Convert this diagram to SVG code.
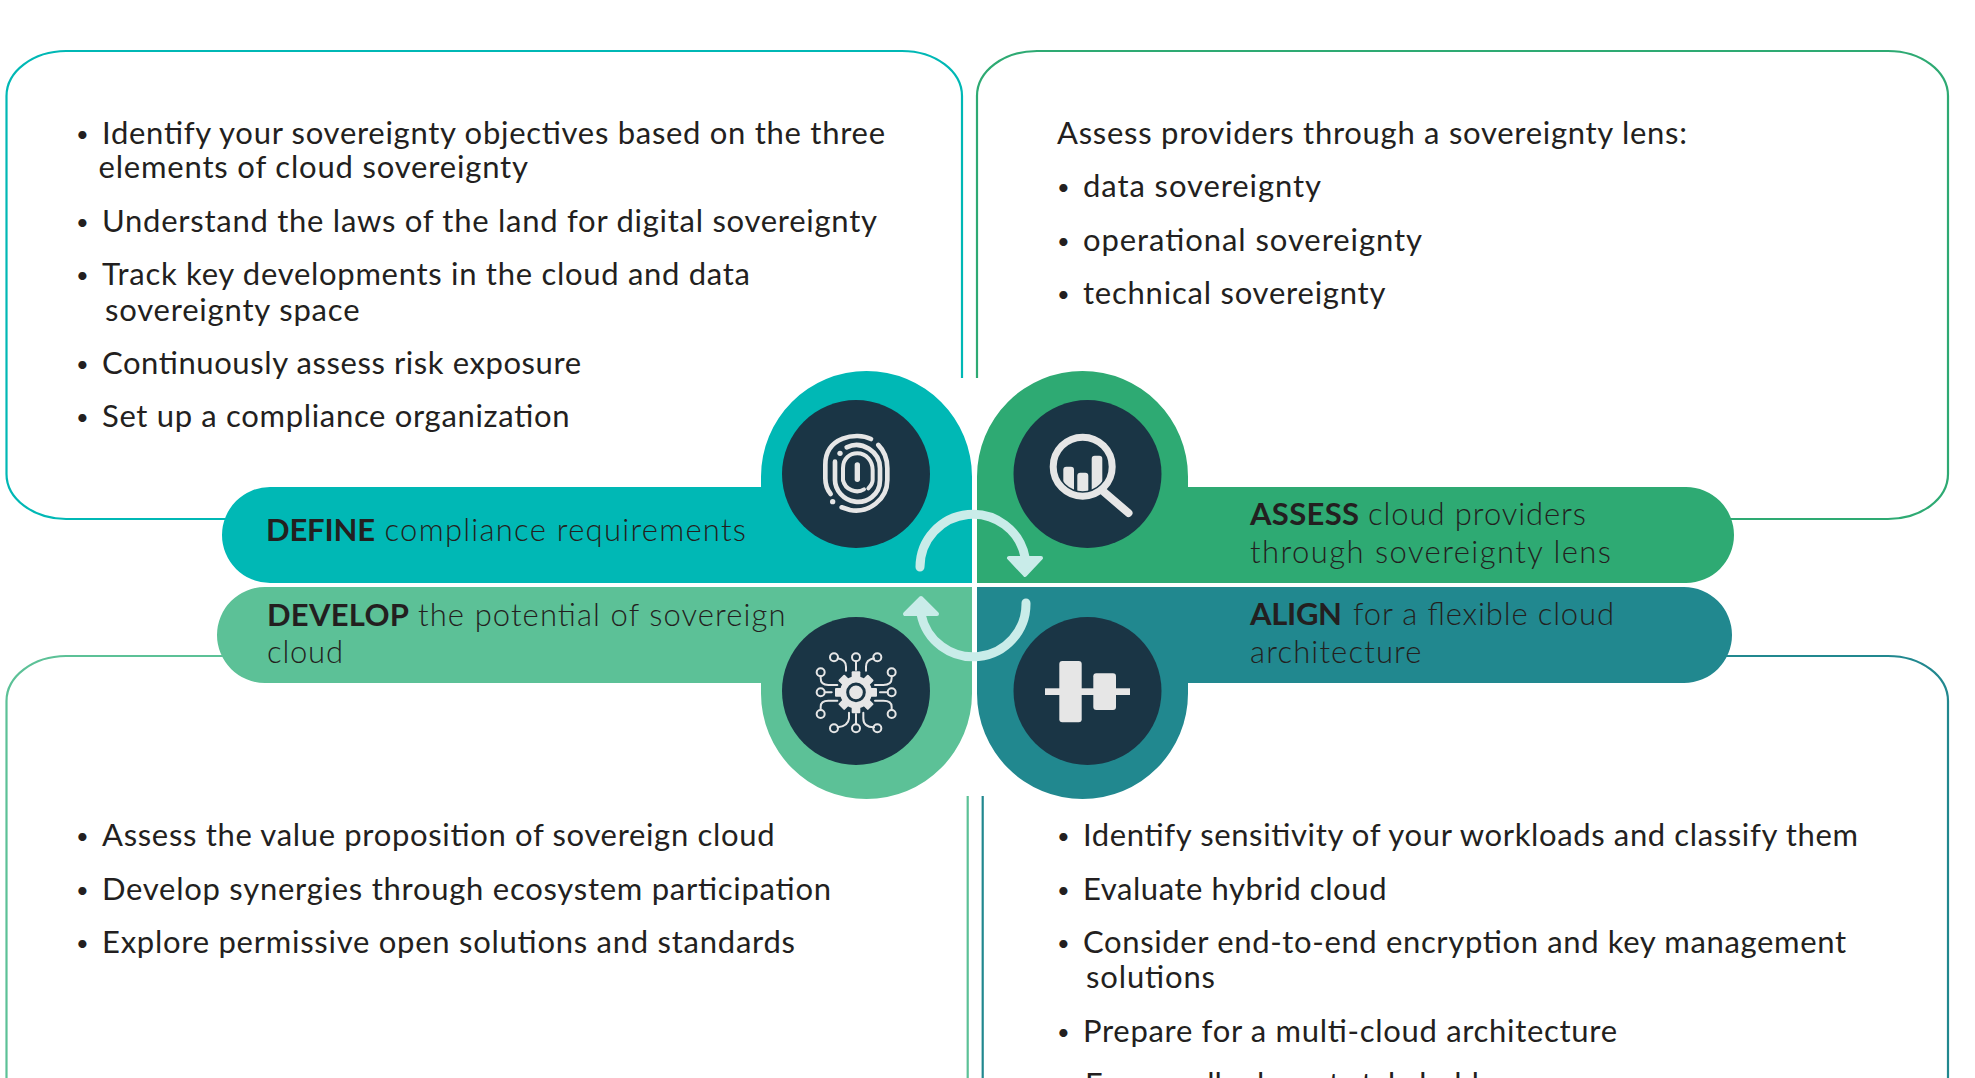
<svg xmlns="http://www.w3.org/2000/svg" width="1975" height="1078" viewBox="0 0 1975 1078">
<style>
.p{fill:none;stroke-width:2.2}
.t{font-family:"Lato","Liberation Sans",sans-serif;font-size:31px;fill:#231f20}
.u{font-family:"Lato","Liberation Sans",sans-serif;font-size:22px;fill:#231f20}
.l{font-family:"Lato","Liberation Sans",sans-serif;font-size:31px;fill:#231f20;font-weight:300}
.b{font-weight:700}
.d{fill:#1a3545}
.i{fill:#e6e6e6}
.s{fill:none;stroke:#e6e6e6;stroke-linecap:round}
.a{fill:none;stroke:#c9ece9;stroke-width:9;stroke-linecap:round}
.h{fill:#c9ece9;stroke:#c9ece9;stroke-width:4;stroke-linejoin:round}
</style>
<defs>
<clipPath id="lens"><circle cx="1082.7" cy="466.7" r="24.500"/></clipPath>
</defs>
<rect width="1975" height="1078" fill="#fff"/>
<g id="connectors">
<path class="p" stroke="#00b8b5" d="M962 378V96A60 45 0 0 0 902 51H66A60 45 0 0 0 6.500 96V474A60 45 0 0 0 66 519H235"/>
<path class="p" stroke="#2eaa73" d="M977 378V96A60 45 0 0 1 1037 51H1888A60 45 0 0 1 1948 96V474A60 45 0 0 1 1888 519H1725"/>
<path class="p" stroke="#5cc197" d="M6.500 1090V701A60 45 0 0 1 66 656H225M967.700 796V1090"/>
<path class="p" stroke="#21888f" d="M1720 656H1888A60 45 0 0 1 1948 701V1090M982.700 796V1090"/>
</g>
<g id="panel-define">
<text class="u" x="76" y="142">•</text><text class="t" x="102" y="144" textLength="783">Identify your sovereignty objectives based on the three</text>
<text class="t" x="98.500" y="178" textLength="429.500">elements of cloud sovereignty</text>
<text class="u" x="76" y="230">•</text><text class="t" x="102" y="232" textLength="775">Understand the laws of the land for digital sovereignty</text>
<text class="u" x="76" y="283">•</text><text class="t" x="102" y="285" textLength="648">Track key developments in the cloud and data</text>
<text class="t" x="105" y="320.500" textLength="254.500">sovereignty space</text>
<text class="u" x="76" y="372">•</text><text class="t" x="102" y="374" textLength="479">Continuously assess risk exposure</text>
<text class="u" x="76" y="425">•</text><text class="t" x="102" y="427" textLength="467.500">Set up a compliance organization</text>
</g>
<g id="panel-assess">
<text class="t" x="1057" y="144" textLength="630">Assess providers through a sovereignty lens:</text>
<text class="u" x="1057" y="195">•</text><text class="t" x="1083" y="197" textLength="238">data sovereignty</text>
<text class="u" x="1057" y="248.500">•</text><text class="t" x="1083" y="250.500" textLength="339">operational sovereignty</text>
<text class="u" x="1057" y="302">•</text><text class="t" x="1083" y="304" textLength="302.500">technical sovereignty</text>
</g>
<g id="panel-develop">
<text class="u" x="76" y="844">•</text><text class="t" x="102" y="846" textLength="672.500">Assess the value proposition of sovereign cloud</text>
<text class="u" x="76" y="898">•</text><text class="t" x="102" y="900" textLength="729">Develop synergies through ecosystem participation</text>
<text class="u" x="76" y="951">•</text><text class="t" x="102" y="953" textLength="693">Explore permissive open solutions and standards</text>
</g>
<g id="panel-align">
<text class="u" x="1057" y="844">•</text><text class="t" x="1083" y="846" textLength="775">Identify sensitivity of your workloads and classify them</text>
<text class="u" x="1057" y="898">•</text><text class="t" x="1083" y="900" textLength="303.500">Evaluate hybrid cloud</text>
<text class="u" x="1057" y="951">•</text><text class="t" x="1083" y="953" textLength="763">Consider end-to-end encryption and key management</text>
<text class="t" x="1086" y="988" textLength="129">solutions</text>
<text class="u" x="1057" y="1039.500">•</text><text class="t" x="1083" y="1041.500" textLength="534">Prepare for a multi-cloud architecture</text>
<text class="t" x="1085" y="1095" textLength="435">Engage all relevant stakeholders</text>
</g>
<g id="node-define">
<path fill="#00b8b5" d="M972 583H270A48 48 0 0 1 270 487H761V476.500A105.500 105.500 0 0 1 972 476.500Z"/>
<circle class="d" cx="856" cy="474" r="74"/>
<g transform="translate(800 420) scale(.3333)" class="s" stroke-width="14">
<path d="M213 57C170 35 75 50 76 135V175C76 195 82 210 92 222"/>
<path d="M235 75C255 95 262 120 262 145V180C262 240 205 280 150 270L125 262"/>
<path d="M140 82C185 60 240 95 240 145V180C240 225 200 250 165 245C130 240 105 210 105 180V125"/>
<path d="M129 180V145C129 115 150 100 172 100C200 100 218 125 218 150V180C218 190 212 198 205 205" stroke-width="12"/>
<path d="M129 180C135 210 170 222 192 208" stroke-width="12"/>
<path d="M172 135V178" stroke-width="16"/>
<circle class="i" stroke="none" cx="98" cy="245" r="8"/>
<circle class="i" stroke="none" cx="120" cy="100" r="8"/>
</g>
<text class="l" x="266" y="541"><tspan class="b" textLength="109">DEFINE</tspan> <tspan x="384.500" textLength="361.500">compliance requirements</tspan></text>
</g>
<g id="node-assess">
<path fill="#2eaa73" d="M977 583V476.500A105.500 105.500 0 0 1 1188 476.500V487H1686A48 48 0 0 1 1686 583Z"/>
<circle class="d" cx="1087.500" cy="474" r="74"/>
<circle cx="1082.700" cy="466.700" r="29.500" fill="none" stroke="#e6e6e6" stroke-width="7"/>
<path class="s" stroke-width="8" d="M1104 492L1128.500 513"/>
<g clip-path="url(#lens)" class="i">
<rect x="1063.300" y="466.700" width="10.700" height="30" rx="3"/>
<rect x="1077.300" y="472.700" width="11" height="30" rx="3"/>
<rect x="1091.700" y="455.700" width="10.600" height="40" rx="3"/>
</g>
<text class="l" x="1250" y="525"><tspan class="b" textLength="109">ASSESS</tspan> <tspan x="1368" textLength="218">cloud providers</tspan></text>
<text class="l" x="1250" y="562.500" textLength="361">through  sovereignty lens</text>
</g>
<g id="node-develop">
<path fill="#5cc197" d="M972 587V693.500A105.500 105.500 0 0 1 761 693.500V683H265A48 48 0 0 1 265 587Z"/>
<circle class="d" cx="856" cy="691" r="74"/>
<g transform="translate(800 640) scale(.3333)">
<g class="s" stroke-width="6">
<circle cx="102" cy="52" r="12"/><circle cx="168" cy="52" r="12"/><circle cx="232" cy="52" r="12"/>
<circle cx="62" cy="97" r="12"/><circle cx="275" cy="97" r="12"/><circle cx="62" cy="157" r="12"/>
<circle cx="275" cy="157" r="12"/><circle cx="62" cy="222" r="12"/><circle cx="275" cy="222" r="12"/>
<circle cx="102" cy="265" r="12"/><circle cx="168" cy="265" r="12"/><circle cx="232" cy="265" r="12"/>
<path d="M113 55C130 58 138 65 138 80V92M168 64V90M222 55C205 58 198 65 198 80V92M62 109V115C62 130 72 135 85 135H112M275 109V115C275 130 265 135 250 135H225M74 157H95M263 157H240M62 210V200C62 188 72 182 85 182H112M275 210V200C275 188 265 182 250 182H225M113 262C130 260 145 255 147 235V218M168 253V222M222 262C205 262 190 255 190 235V218"/>
</g>
<g class="i">
<circle cx="168" cy="157" r="48"/>
<rect x="155" y="94" width="26" height="126" rx="3"/>
<rect x="105" y="144" width="126" height="26" rx="3"/>
<rect x="155" y="94" width="26" height="126" rx="3" transform="rotate(45 168 157)"/>
<rect x="155" y="94" width="26" height="126" rx="3" transform="rotate(-45 168 157)"/>
</g>
<circle cx="168" cy="157" r="25" fill="#e6e6e6" stroke="#1a3545" stroke-width="9"/>
</g>
<text class="l" x="267" y="626"><tspan class="b" textLength="142">DEVELOP</tspan> <tspan x="418" textLength="367.500">the potential of sovereign</tspan></text>
<text class="l" x="267" y="663" textLength="76">cloud</text>
</g>
<g id="node-align">
<path fill="#21888f" d="M977 587H1684A48 48 0 0 1 1684 683H1188V693.500A105.500 105.500 0 0 1 977 693.500Z"/>
<circle class="d" cx="1087.500" cy="691" r="74"/>
<g class="i">
<rect x="1045" y="688.300" width="85" height="6.700"/>
<rect x="1059.300" y="661" width="22.400" height="61.300" rx="3"/>
<rect x="1093.300" y="673.300" width="22.700" height="36.700" rx="3"/>
</g>
<text class="l" x="1250" y="625"><tspan class="b" textLength="92">ALIGN</tspan> <tspan x="1353" textLength="261">for a flexible cloud</tspan></text>
<text class="l" x="1250" y="662.500" textLength="171.500">architecture</text>
</g>
<g id="cycle-arrows">
<path class="a" d="M920 567A53 53 0 0 1 1025 557"/>
<path class="h" d="M1009 558H1041L1025 575Z"/>
<path class="a" d="M1026 603A53 53 0 0 1 921 614"/>
<path class="h" d="M905 614H937L921 598Z"/>
</g>
</svg>
